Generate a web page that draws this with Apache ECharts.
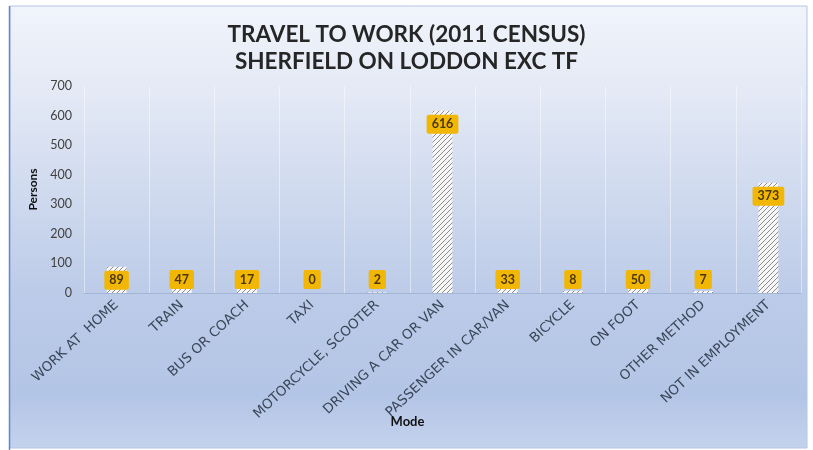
<!DOCTYPE html>
<html><head><meta charset="utf-8">
<script src="https://cdn.jsdelivr.net/npm/echarts@6/dist/echarts.min.js"></script>
<style>html,body{margin:0;padding:0;background:#fff}#c{width:813px;height:450px}</style>
</head><body><div id="c"></div>
<script>
const categories = ['WORK AT  HOME','TRAIN','BUS OR COACH','TAXI','MOTORCYCLE, SCOOTER','DRIVING A CAR OR VAN','PASSENGER IN CAR/VAN','BICYCLE','ON FOOT','OTHER METHOD','NOT IN EMPLOYMENT'];
const persons = [89,47,17,0,2,616,33,8,50,7,373];
const yTicks = [0,100,200,300,400,500,600,700];
const titleLines = ['TRAVEL TO WORK (2011 CENSUS)','SHERFIELD ON LODDON EXC TF'];

// hatch pattern
const pc = document.createElement('canvas');
pc.width = 5; pc.height = 5;
const g = pc.getContext('2d');
g.fillStyle = '#f6f6f6'; g.fillRect(0,0,5,5);
g.strokeStyle = '#8c8c8c'; g.lineWidth = 1;
g.beginPath();
g.moveTo(-1,6); g.lineTo(6,-1);
g.moveTo(-1,1); g.lineTo(1,-1);
g.moveTo(4,6); g.lineTo(6,4);
g.stroke();

const chart = echarts.init(document.getElementById('c'), null, {renderer:'canvas'});
chart.setOption({
  backgroundColor:'#ffffff',
  animation:false,
  graphic:[
    {type:'rect', z:-10, silent:true, shape:{x:10,y:6,width:797,height:442},
     style:{fill:new echarts.graphic.LinearGradient(0,0,0,1,[
       {offset:0,color:'#f1f4fb'},{offset:0.2,color:'#e3e9f5'},{offset:0.65,color:'#bccbe8'},
       {offset:0.88,color:'#b3c5e6'},{offset:1,color:'#c4d2ec'}]), stroke:'#b4c6e6', lineWidth:1}},
    {type:'line', z:-9, silent:true, shape:{x1:9.5,y1:6,x2:9.5,y2:450}, style:{stroke:'#6286d0', lineWidth:1.5}}
  ],
  title:{
    text:titleLines.join('\n'), left:'center', top:16,
    textStyle:{fontFamily:'Lato', fontWeight:'bold', fontSize:22.5, lineHeight:27, color:'#262626'}
  },
  grid:{left:84, right:12, top:86, bottom:157},
  xAxis:{
    type:'category', data:categories,
    name:'Mode', nameLocation:'middle', nameGap:122, nameMoveOverlap:false,
    nameTextStyle:{fontFamily:'Lato', fontWeight:'bold', fontSize:13, color:'#111', padding:[0,70,0,0]},
    axisLine:{lineStyle:{color:'#a3b5d6', width:1}},
    axisTick:{show:false},
    splitLine:{show:true, lineStyle:{color:'rgba(255,255,255,0.45)', width:1}},
    axisLabel:{rotate:43, interval:0, margin:10, fontFamily:'DejaVu Sans', fontSize:13.5, color:'#3b4658'}
  },
  yAxis:{
    type:'value', min:0, max:700, interval:100,
    name:'Persons', nameLocation:'middle', nameGap:44,
    nameTextStyle:{fontFamily:'Lato', fontWeight:'bold', fontSize:12, color:'#111'},
    axisLine:{show:false}, axisTick:{show:false}, splitLine:{show:false},
    axisLabel:{margin:12, fontFamily:'Lato', fontSize:12.5, color:'#404040',
      formatter:v=>yTicks.includes(v)?String(v):''}
  },
  series:[{
    type:'bar', barWidth:20,
    data:persons.map(v=>({value:v, label:{position: v>=80?'insideTop':'insideBottom'}})),
    itemStyle:{color:{image:pc, repeat:'repeat'}},
    label:{show:true, distance:4, fontFamily:'Lato', fontWeight:'bold', fontSize:12.5, color:'#4a3800',
      backgroundColor:'#f2b705', padding:[3,5,3,5], borderRadius:2}
  }]
});
</script></body></html>
